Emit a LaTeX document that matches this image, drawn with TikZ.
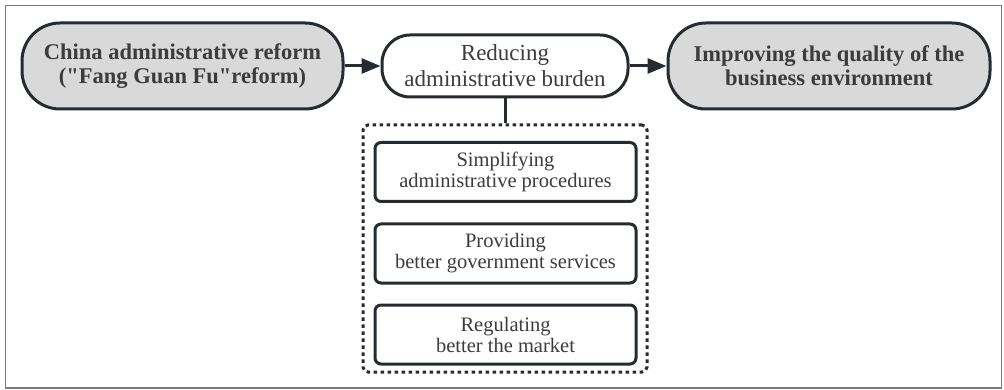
\documentclass[tikz,border=0pt]{standalone}
\usepackage{fontspec}
\newfontfamily\libserif{Liberation Serif}
\usetikzlibrary{arrows.meta}
\definecolor{edge}{HTML}{262B31}
\definecolor{boxfill}{HTML}{D9D9D9}
\definecolor{txt}{HTML}{3C3C3C}
\definecolor{frame}{HTML}{7A7A7A}
\tikzset{
  bignode/.style={draw=edge, line width=3pt, fill=boxfill, rounded corners=38pt, align=center, text=txt,
    font=\libserif\bfseries\fontsize{22.5}{24}\selectfont, inner sep=0pt},
  midnode/.style={draw=edge, line width=3pt, fill=white, rounded corners=28pt, align=center, text=txt,
    font=\libserif\fontsize{23}{26}\selectfont, inner sep=0pt},
  subbox/.style={draw=edge, line width=3pt, fill=white, rounded corners=6pt, align=center, text=txt,
    font=\libserif\fontsize{20.5}{21}\selectfont, inner sep=0pt, minimum width=261pt, minimum height=59pt},
  groupbox/.style={draw=edge, line width=3pt, dash pattern=on 3.5pt off 3.5pt, rounded corners=5pt,
    minimum width=284pt, minimum height=247pt, inner sep=0pt},
  arr/.style={draw=edge, line width=3pt, -{Triangle[length=19pt,width=15pt]}},
  link/.style={draw=edge, line width=3pt}
}
\begin{document}
\begin{tikzpicture}[x=1pt,y=-1pt]
\useasboundingbox (0,0) rectangle (1004,390);
\draw[frame, line width=1.5pt] (5.5,5.5) rectangle (1001.5,388);
\node[bignode, minimum width=321pt, minimum height=86pt] (left) at (182.5,66) {China administrative reform\\("Fang Guan Fu"reform)};
\node[midnode, minimum width=246pt, minimum height=62pt] (mid) at (505,66) {Reducing\\administrative burden};
\node[bignode, minimum width=322pt, minimum height=86pt] (right) at (829,66) {Improving the quality of the\\business environment};
\node[groupbox] (group) at (505,248.5) {};
\node[subbox] (b1) at (505.5,172) {Simplifying\\administrative procedures};
\node[subbox] (b2) at (505.5,253.5) {Providing\\better government services};
\node[subbox] (b3) at (505.5,334.5) {Regulating\\better the market};
\draw[arr] (left.east) -- (mid.west);
\draw[arr] (mid.east) -- (right.west);
\draw[link] (mid.south) -- (group.north);
\end{tikzpicture}
\end{document}
